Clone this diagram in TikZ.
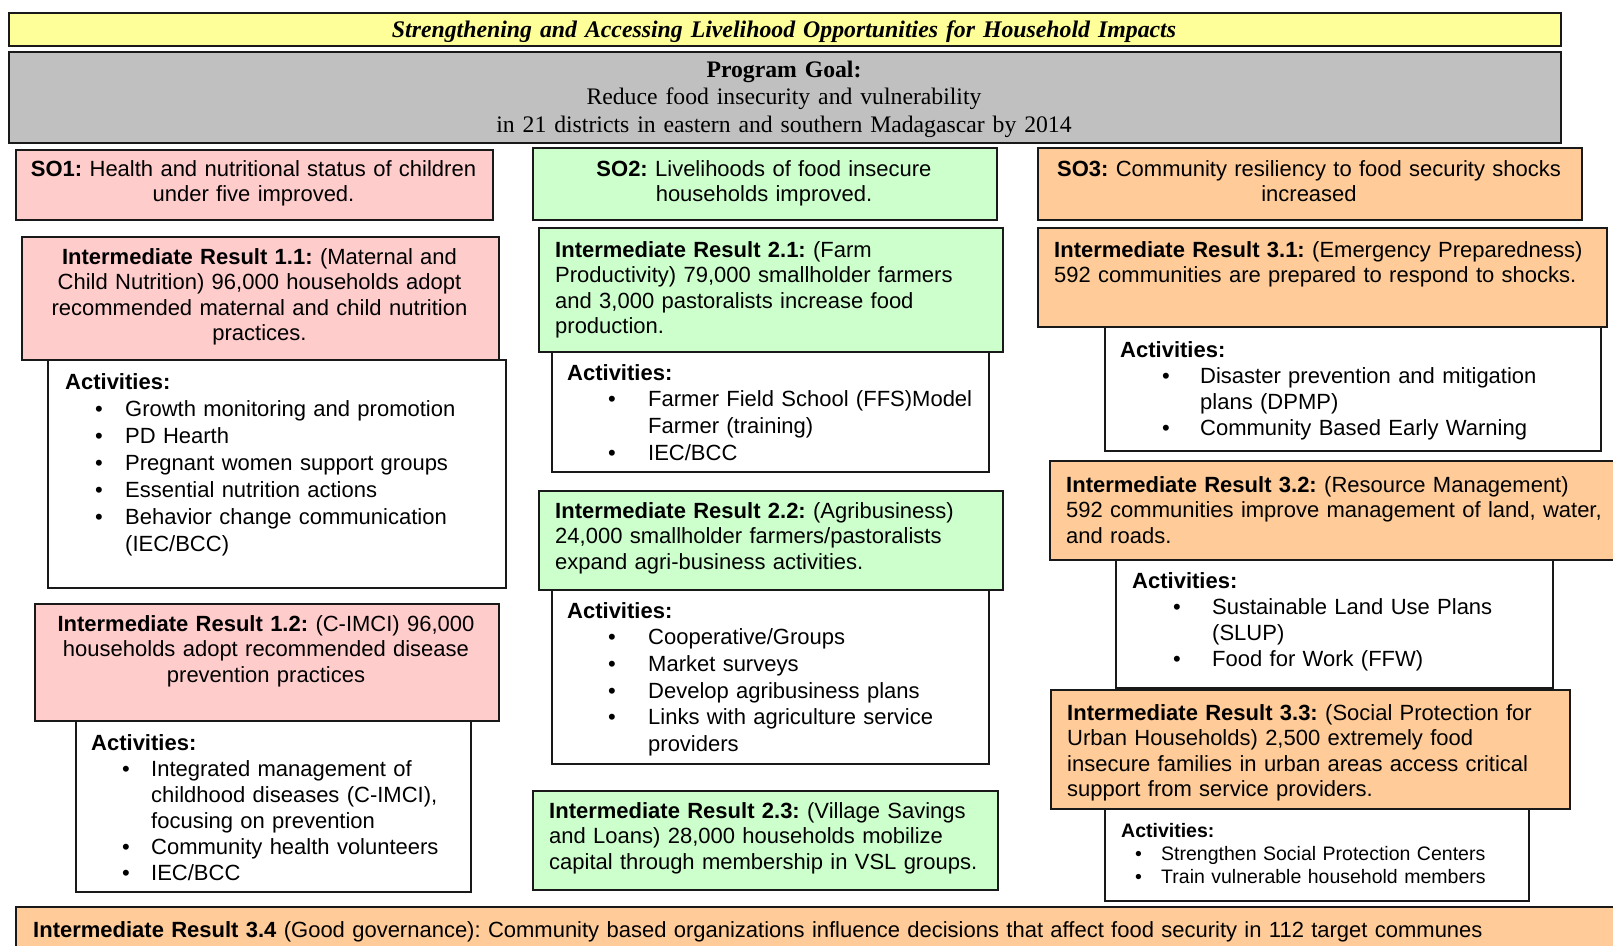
\documentclass[tikz,border=0pt]{standalone}
\usepackage{fontspec}
\setmainfont{Liberation Sans}
\newfontfamily\timesfont{Liberation Serif}
\frenchspacing
\definecolor{titleyellow}{HTML}{FFFF99}
\definecolor{goalgray}{HTML}{C0C0C0}
\definecolor{sopink}{HTML}{FFCCCC}
\definecolor{sogreen}{HTML}{CCFFCC}
\definecolor{soorange}{HTML}{FFCC99}
% bullet: indent before the dot, then room for the dot
\newcommand{\bul}[2]{\hspace*{#1pt}\makebox[#2pt][l]{\textbullet}}
\newcommand{\cont}[1]{\hspace*{#1pt}}
\tikzset{
  panel/.style={draw=black!90, line width=2.2pt, anchor=north west, inner sep=0pt},
  ctext/.style={anchor=base, align=center, inner sep=0pt, text width=#1},
  ltext/.style={anchor=base west, align=left, inner sep=0pt, text width=#1},
  irfont/.style={font=\fontsize{22}{25.5}\selectfont},
  actfont/.style={font=\fontsize{22}{26.7}\selectfont},
}
\begin{document}
\begin{tikzpicture}[x=1pt,y=-1pt]
\useasboundingbox (0,0) rectangle (1613,945);
% header
\node[panel, fill=titleyellow, minimum width=1552, minimum height=33] (title) at (8,12) {};
\node[ctext=1552, font=\timesfont\bfseries\itshape\fontsize{23.8}{26}\selectfont] (titlet) at (784,37)
  {Strengthening and Accessing Livelihood Opportunities for Household Impacts};
\node[panel, fill=goalgray, minimum width=1552, minimum height=91] (goal) at (8,51) {};
\node[ctext=1552, font=\timesfont\fontsize{23.7}{27.5}\selectfont] (goalt) at (784,77)
  {\textbf{Program Goal:}\\Reduce food insecurity and vulnerability\\in 21 districts in eastern and southern Madagascar by 2014};
% SO1 column
\node[panel, fill=sopink, minimum width=477, minimum height=70] (so1) at (15,149) {};
\node[ctext=477, irfont] (so1t) at (253.5,176)
  {\textbf{SO1:} Health and nutritional status of children\\under five improved.};
\node[panel, fill=sopink, minimum width=477, minimum height=123] (ir11) at (21,236) {};
\node[ctext=477, irfont] (ir11t) at (259.5,264)
  {\textbf{Intermediate Result 1.1:} (Maternal and\\Child Nutrition) 96,000 households adopt\\recommended maternal and child nutrition\\practices.};
\node[panel, fill=white, minimum width=458, minimum height=228] (act11) at (47,359) {};
\node[ltext=440, font=\fontsize{22}{27}\selectfont] (act11t) at (65,389)
  {\textbf{Activities:}\\
   \bul{30}{30}Growth monitoring and promotion\\
   \bul{30}{30}PD Hearth\\
   \bul{30}{30}Pregnant women support groups\\
   \bul{30}{30}Essential nutrition actions\\
   \bul{30}{30}Behavior change communication\\
   \cont{60}(IEC/BCC)};
\node[panel, fill=sopink, minimum width=464, minimum height=117] (ir12) at (34,603) {};
\node[ctext=464, irfont] (ir12t) at (266,631)
  {\textbf{Intermediate Result 1.2:} (C-IMCI) 96,000\\households adopt recommended disease\\prevention practices};
\node[panel, fill=white, minimum width=395, minimum height=171] (act12) at (75,720) {};
\node[ltext=380, font=\fontsize{22}{26}\selectfont] (act12t) at (91,750)
  {\textbf{Activities:}\\
   \bul{31}{29}Integrated management of\\
   \cont{60}childhood diseases (C-IMCI),\\
   \cont{60}focusing on prevention\\
   \bul{31}{29}Community health volunteers\\
   \bul{31}{29}IEC/BCC};
% SO2 column
\node[panel, fill=sogreen, minimum width=464, minimum height=72] (so2) at (532,147) {};
\node[ctext=464, irfont] (so2t) at (764,176)
  {\textbf{SO2:} Livelihoods of food insecure\\households improved.};
\node[panel, fill=sogreen, minimum width=464, minimum height=124] (ir21) at (538,227) {};
\node[ltext=440, irfont] (ir21t) at (555,257)
  {\textbf{Intermediate Result 2.1:} (Farm\\Productivity) 79,000 smallholder farmers\\and 3,000 pastoralists increase food\\production.};
\node[panel, fill=white, minimum width=437, minimum height=120] (act21) at (551,351) {};
\node[ltext=420, actfont] (act21t) at (567,380)
  {\textbf{Activities:}\\
   \bul{41}{40}Farmer Field School (FFS)Model\\
   \cont{81}Farmer (training)\\
   \bul{41}{40}IEC/BCC};
\node[panel, fill=sogreen, minimum width=464, minimum height=99] (ir22) at (538,490) {};
\node[ltext=440, irfont] (ir22t) at (555,518)
  {\textbf{Intermediate Result 2.2:} (Agribusiness)\\24,000 smallholder farmers/pastoralists\\expand agri-business activities.};
\node[panel, fill=white, minimum width=437, minimum height=174] (act22) at (551,589) {};
\node[ltext=420, actfont] (act22t) at (567,618)
  {\textbf{Activities:}\\
   \bul{41}{40}Cooperative/Groups\\
   \bul{41}{40}Market surveys\\
   \bul{41}{40}Develop agribusiness plans\\
   \bul{41}{40}Links with agriculture service\\
   \cont{81}providers};
\node[panel, fill=sogreen, minimum width=465, minimum height=99] (ir23) at (532,790) {};
\node[ltext=450, irfont] (ir23t) at (549,818)
  {\textbf{Intermediate Result 2.3:} (Village Savings\\and Loans) 28,000 households mobilize\\capital through membership in VSL groups.};
% SO3 column
\node[panel, fill=soorange, minimum width=544, minimum height=72] (so3) at (1037,147) {};
\node[ctext=544, irfont] (so3t) at (1309,176)
  {\textbf{SO3:} Community resiliency to food security shocks\\increased};
\node[panel, fill=soorange, minimum width=569, minimum height=99] (ir31) at (1037,227) {};
\node[ltext=550, irfont] (ir31t) at (1054,257)
  {\textbf{Intermediate Result 3.1:} (Emergency Preparedness)\\592 communities are prepared to respond to shocks.};
\node[panel, fill=white, minimum width=496, minimum height=124] (act31) at (1104,326) {};
\node[ltext=470, font=\fontsize{22}{26}\selectfont] (act31t) at (1120,357)
  {\textbf{Activities:}\\
   \bul{42}{38}Disaster prevention and mitigation\\
   \cont{80}plans (DPMP)\\
   \bul{42}{38}Community Based Early Warning};
\node[panel, fill=soorange, minimum width=580, minimum height=99] (ir32) at (1049,460) {};
\node[ltext=550, irfont] (ir32t) at (1066,492)
  {\textbf{Intermediate Result 3.2:} (Resource Management)\\592 communities improve management of land, water,\\and roads.};
\node[panel, fill=white, minimum width=437, minimum height=128] (act32) at (1115,559) {};
\node[ltext=420, font=\fontsize{22}{26.3}\selectfont] (act32t) at (1132,588)
  {\textbf{Activities:}\\
   \bul{41}{39}Sustainable Land Use Plans\\
   \cont{80}(SLUP)\\
   \bul{41}{39}Food for Work (FFW)};
\node[panel, fill=soorange, minimum width=519, minimum height=119] (ir33) at (1050,689) {};
\node[ltext=500, irfont] (ir33t) at (1067,720)
  {\textbf{Intermediate Result 3.3:} (Social Protection for\\Urban Households) 2,500 extremely food\\insecure families in urban areas access critical\\support from service providers.};
\node[panel, fill=white, minimum width=424, minimum height=92] (act33) at (1104,808) {};
\node[ltext=400, font=\fontsize{19.5}{23}\selectfont] (act33t) at (1121,837)
  {\textbf{Activities:}\\
   \bul{14}{26}Strengthen Social Protection Centers\\
   \bul{14}{26}Train vulnerable household members};
% bottom band
\node[panel, fill=soorange, minimum width=1620, minimum height=60] (ir34) at (15,906) {};
\node[ltext=1580, irfont] (ir34t) at (33,937)
  {\textbf{Intermediate Result 3.4} (Good governance): Community based organizations influence decisions that affect food security in 112 target communes};
\end{tikzpicture}
\end{document}
